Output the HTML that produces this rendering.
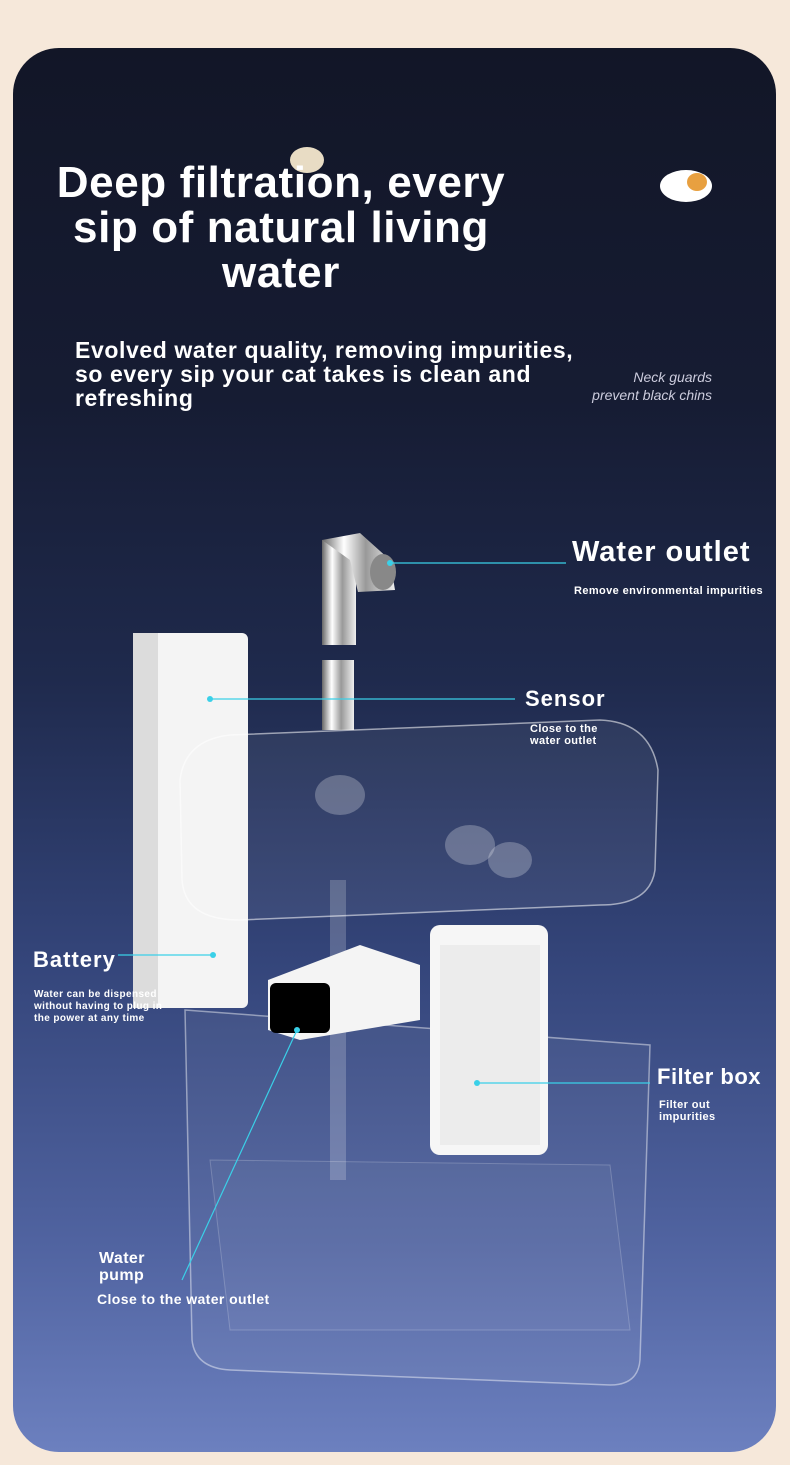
<!DOCTYPE html>
<html><head><meta charset="utf-8"><style>
html,body{margin:0;padding:0;}
body{width:790px;height:1465px;background:#f6e8da;position:relative;overflow:hidden;font-family:"Liberation Sans",sans-serif;}
.card{position:absolute;left:13px;top:48px;width:763px;height:1404px;border-radius:46px;background:linear-gradient(180deg,#121627 0%,#161c33 25%,#1f2a4d 45%,#34457a 65%,#5063a0 85%,#6c80bf 100%);overflow:hidden;}
.t{position:absolute;color:#fff;font-weight:bold;white-space:nowrap;}
.s{position:absolute;color:#fff;font-weight:bold;white-space:nowrap;letter-spacing:0.4px;}
</style></head><body>
<div class="card"></div>
<svg width="790" height="1465" style="position:absolute;left:0;top:0">
<defs>
<linearGradient id="chrome" x1="0" x2="1"><stop offset="0" stop-color="#666"/><stop offset=".3" stop-color="#fff"/><stop offset=".6" stop-color="#999"/><stop offset="1" stop-color="#eee"/></linearGradient>
</defs>
<ellipse cx="307" cy="160" rx="17" ry="13" fill="#e8dcc4"/>
<ellipse cx="686" cy="186" rx="26" ry="16" fill="#fff"/>
<ellipse cx="697" cy="182" rx="10" ry="9" fill="#e8a040"/>
<!-- lower tank -->
<path d="M185 1010 L650 1045 L640 1360 Q638 1385 610 1385 L230 1370 Q195 1368 192 1340 Z" fill="rgba(255,255,255,0.05)" stroke="rgba(255,255,255,0.45)" stroke-width="1.5"/>
<path d="M210 1160 L610 1165 L630 1330 L230 1330 Z" fill="rgba(255,255,255,0.04)" stroke="rgba(255,255,255,0.2)"/>
<!-- battery column -->
<rect x="133" y="633" width="115" height="375" rx="6" fill="#f4f4f4"/>
<rect x="133" y="633" width="25" height="375" fill="#dcdcdc"/>
<!-- pipe -->
<rect x="322" y="660" width="32" height="70" fill="url(#chrome)"/>
<rect x="330" y="880" width="16" height="300" fill="rgba(255,255,255,0.2)"/>
<!-- upper tray -->
<path d="M180 780 Q185 740 230 735 L600 720 Q650 722 658 770 L655 870 Q650 905 600 905 L240 920 Q185 920 182 880 Z" fill="rgba(255,255,255,0.06)" stroke="rgba(255,255,255,0.55)" stroke-width="1.5"/>
<ellipse cx="340" cy="795" rx="25" ry="20" fill="rgba(255,255,255,0.25)"/>
<ellipse cx="470" cy="845" rx="25" ry="20" fill="rgba(255,255,255,0.25)"/>
<ellipse cx="510" cy="860" rx="22" ry="18" fill="rgba(255,255,255,0.25)"/>
<!-- faucet -->
<rect x="322" y="540" width="34" height="105" fill="url(#chrome)"/>
<path d="M322 540 L360 533 L390 560 L395 590 L358 592 L350 560 Z" fill="url(#chrome)"/>
<ellipse cx="383" cy="572" rx="13" ry="18" fill="#888"/>
<!-- pump -->
<path d="M268 980 L360 945 L420 965 L420 1020 L300 1040 L268 1030 Z" fill="#f4f4f4"/>
<rect x="270" y="983" width="60" height="50" rx="6" fill="#000"/>
<!-- filter -->
<rect x="430" y="925" width="118" height="230" rx="10" fill="#f6f6f6"/>
<rect x="440" y="945" width="100" height="200" fill="#e6e6e6" opacity=".6"/>
<!-- lines -->
<g stroke="#3ad0e8" stroke-width="1.2" fill="none">
<line x1="390" y1="563" x2="566" y2="563"/>
<line x1="210" y1="699" x2="515" y2="699"/>
<line x1="118" y1="955" x2="213" y2="955"/>
<line x1="477" y1="1083" x2="650" y2="1083"/>
<line x1="297" y1="1030" x2="182" y2="1280"/>
</g>
<g fill="#3ad0e8"><circle cx="390" cy="563" r="3"/><circle cx="210" cy="699" r="3"/><circle cx="213" cy="955" r="3"/><circle cx="477" cy="1083" r="3"/><circle cx="297" cy="1030" r="3"/></g>
</svg>
<div class="t" style="left:0;width:562px;text-align:center;top:160px;font-size:44px;line-height:45px;letter-spacing:0.6px;">Deep filtration, every<br>sip of natural living<br>water</div>
<div class="s" style="left:75px;top:338px;font-size:23px;line-height:24px;letter-spacing:0.6px;">Evolved water quality, removing impurities,<br>so every sip your cat takes is clean and<br>refreshing</div>
<div style="position:absolute;right:78px;top:368px;color:#ccd;font-style:italic;font-size:14px;line-height:18px;text-align:right;">Neck guards<br>prevent black chins</div>
<div class="s" style="left:572px;top:536px;font-size:29px;letter-spacing:1px;">Water outlet</div>
<div class="s" style="left:574px;top:585px;font-size:11px;">Remove environmental impurities</div>
<div class="s" style="left:525px;top:686px;font-size:22px;letter-spacing:1px;">Sensor</div>
<div class="s" style="left:530px;top:723px;font-size:11px;line-height:12px;">Close to the<br>water outlet</div>
<div class="s" style="left:33px;top:947px;font-size:22px;letter-spacing:1px;">Battery</div>
<div class="s" style="left:34px;top:989px;font-size:10px;line-height:12px;">Water can be dispensed<br>without having to plug in<br>the power at any time</div>
<div class="s" style="left:657px;top:1064px;font-size:22px;letter-spacing:0.5px;">Filter box</div>
<div class="s" style="left:659px;top:1099px;font-size:11px;line-height:12px;">Filter out<br>impurities</div>
<div class="s" style="left:99px;top:1250px;font-size:16px;line-height:17px;">Water<br>pump</div>
<div class="s" style="left:97px;top:1291px;font-size:14px;">Close to the water outlet</div>
</body></html>
